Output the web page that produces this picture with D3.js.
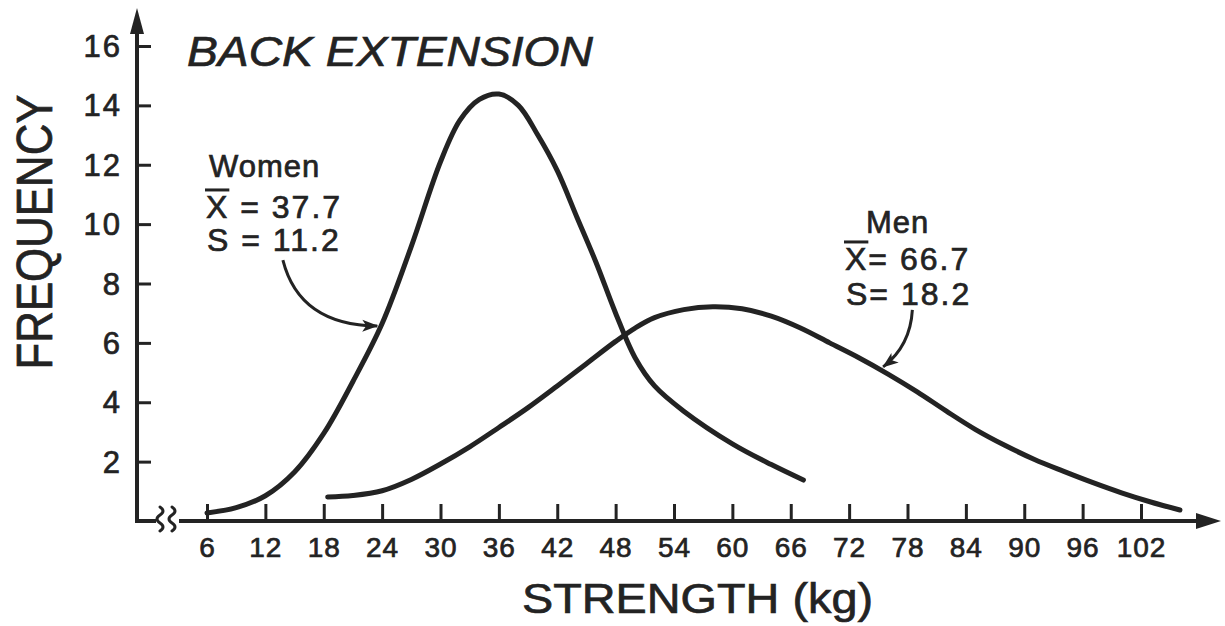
<!DOCTYPE html>
<html>
<head>
<meta charset="utf-8">
<script src="https://cdn.jsdelivr.net/npm/d3@7"></script>
<style>
  html, body { margin: 0; padding: 0; background: #fff; }
  svg { display: block; }
  text { font-family: "Liberation Sans", Arial, sans-serif; fill: #232323; stroke: #232323; stroke-width: 0.7px; }
</style>
</head>
<body>
<svg id="chart" width="1225" height="626"></svg>
<script>
// Back-extension strength (kg) and frequency, women and men
const xTicks = [6, 12, 18, 24, 30, 36, 42, 48, 54, 60, 66, 72, 78, 84, 90, 96, 102];
const yTicks = [2, 4, 6, 8, 10, 12, 14, 16];

const womenStrength = [6, 9, 12, 15, 18, 21, 24, 27, 30, 32, 34, 36, 38, 40, 42, 44, 46, 48, 50, 52, 55, 60, 64, 67.3];
const womenFreq     = [0.27, 0.45, 0.85, 1.65, 2.95, 4.70, 6.65, 9.25, 12.1, 13.5, 14.2, 14.38, 14.0, 13.0, 11.8, 10.25, 8.7, 7.0, 5.5, 4.55, 3.7, 2.6, 1.9, 1.38];

const menStrength = [18.4, 21, 24, 27, 30, 33, 36, 39, 42, 45, 48, 50, 52, 55, 58, 61, 64, 67, 70, 73, 76, 79, 82, 85, 88, 91, 94, 97, 100, 103, 106];
const menFreq     = [0.81, 0.86, 1.02, 1.4, 1.92, 2.5, 3.15, 3.82, 4.55, 5.3, 6.05, 6.5, 6.85, 7.12, 7.22, 7.15, 6.9, 6.5, 6.0, 5.5, 4.95, 4.35, 3.7, 3.08, 2.55, 2.08, 1.68, 1.3, 0.95, 0.64, 0.37];

// group labels: name, mean, standard deviation
const womenStats = ["Women", "37.7", "11.2"];
const menStats   = ["Men", "66.7", "18.2"];

const ink = "#232323";
const svg = d3.select("#chart");

const x = d3.scaleLinear().domain([6, 102]).range([207, 1141]);
const y = d3.scaleLinear().domain([0, 16]).range([521, 46]);

const x0 = 137;          // vertical axis position
const yBase = y(0);      // horizontal axis position

// arrowhead marker for the label pointers
const defs = svg.append("defs");
defs.append("marker")
  .attr("id", "head")
  .attr("viewBox", "-1 -7 17 14")
  .attr("refX", 15).attr("refY", 0)
  .attr("markerWidth", 17).attr("markerHeight", 14)
  .attr("markerUnits", "userSpaceOnUse")
  .attr("orient", "auto")
  .append("path")
  .attr("d", "M0,-6 L16,0 L0,6 L4,0 Z")
  .attr("fill", ink);

// vertical axis with arrow
svg.append("line")
  .attr("x1", x0).attr("y1", yBase + 1)
  .attr("x2", x0).attr("y2", 30)
  .attr("stroke", ink).attr("stroke-width", 4);
svg.append("path")
  .attr("d", `M${x0},8 L${x0 + 7},34 L${x0 - 7},34 Z`)
  .attr("fill", ink);

// horizontal axis, broken near the origin, with arrow
svg.append("line")
  .attr("x1", x0 - 2).attr("y1", yBase)
  .attr("x2", 156).attr("y2", yBase)
  .attr("stroke", ink).attr("stroke-width", 4);
svg.append("line")
  .attr("x1", 179).attr("y1", yBase)
  .attr("x2", 1200).attr("y2", yBase)
  .attr("stroke", ink).attr("stroke-width", 4);
svg.append("path")
  .attr("d", `M1221,${yBase} L1196,${yBase - 8} L1196,${yBase + 8} Z`)
  .attr("fill", ink);

// axis break marks
[161, 173].forEach(cx => {
  svg.append("path")
    .attr("d", `M${cx - 1},507 q 6,4 0,8 q -6,4 0,8 q 6,4 0,8`)
    .attr("fill", "none").attr("stroke", ink)
    .attr("stroke-width", 3).attr("stroke-linecap", "round");
});

// y ticks and labels
const yAxis = d3.axisLeft(y).tickValues(yTicks).tickSize(-14).tickPadding(15).tickFormat(d3.format("d"));
const gy = svg.append("g").attr("transform", `translate(${x0},0)`).call(yAxis);
gy.select(".domain").remove();
gy.selectAll(".tick line").attr("stroke", ink).attr("stroke-width", 3);
gy.selectAll(".tick text")
  .attr("font-size", 31).attr("fill", ink)
  .attr("font-family", "\"Liberation Sans\", Arial, sans-serif")
  .attr("letter-spacing", 2).attr("dy", "0.34em");

// x ticks and labels
const xAxis = d3.axisBottom(x).tickValues(xTicks).tickSize(-17).tickPadding(16).tickFormat(d3.format("d"));
const gx = svg.append("g").attr("transform", `translate(0,${yBase})`).call(xAxis);
gx.select(".domain").remove();
gx.selectAll(".tick line").attr("stroke", ink).attr("stroke-width", 3);
gx.selectAll(".tick text")
  .attr("font-size", 28).attr("fill", ink)
  .attr("font-family", "\"Liberation Sans\", Arial, sans-serif")
  .attr("letter-spacing", 1);

// distribution curves
const line = d3.line()
  .x(d => x(d[0]))
  .y(d => y(d[1]))
  .curve(d3.curveCatmullRom.alpha(0.5));

const women = d3.zip(womenStrength, womenFreq);
const men = d3.zip(menStrength, menFreq);

[women, men].forEach(series => {
  svg.append("path")
    .datum(series)
    .attr("d", line)
    .attr("fill", "none")
    .attr("stroke", ink)
    .attr("stroke-width", 5)
    .attr("stroke-linecap", "round")
    .attr("stroke-linejoin", "round");
});

// titles
svg.append("text")
  .attr("x", 187).attr("y", 66)
  .attr("font-size", 42).attr("font-style", "italic")
  .attr("textLength", 406).attr("lengthAdjust", "spacingAndGlyphs")
  .text("BACK EXTENSION");

svg.append("text")
  .attr("transform", "translate(52,232) rotate(-90)")
  .attr("text-anchor", "middle")
  .attr("font-size", 50)
  .attr("textLength", 275).attr("lengthAdjust", "spacingAndGlyphs")
  .text("FREQUENCY");

svg.append("text")
  .attr("x", 522).attr("y", 613)
  .attr("font-size", 43)
  .attr("textLength", 351).attr("lengthAdjust", "spacingAndGlyphs")
  .text("STRENGTH (kg)");

// group annotations: name, mean (X with a bar) and standard deviation
function statBlock(stats, pos) {
  const g = svg.append("g");
  const fs = 32;
  g.append("text").attr("x", pos.nameX).attr("y", pos.nameY)
    .attr("font-size", 31).attr("letter-spacing", 1).text(stats[0]);
  const m = g.append("text").attr("x", pos.statX).attr("y", pos.meanY)
    .attr("font-size", fs).attr("letter-spacing", 2);
  const xs = m.append("tspan").text("X");
  m.append("tspan").text(pos.eq + stats[1]);
  const w = xs.node().getComputedTextLength();
  const barY = pos.meanY - fs * 0.72 - 5;
  g.append("line")
    .attr("x1", pos.statX - 1).attr("x2", pos.statX + w)
    .attr("y1", barY).attr("y2", barY)
    .attr("stroke", ink).attr("stroke-width", 3);
  g.append("text").attr("x", pos.statX + 1).attr("y", pos.sdY)
    .attr("font-size", fs).attr("letter-spacing", 2)
    .text("S" + pos.eq + stats[2]);
}
statBlock(womenStats, { nameX: 209, nameY: 177, statX: 206, meanY: 218, sdY: 251, eq: " = " });
statBlock(menStats,   { nameX: 866, nameY: 233, statX: 845, meanY: 270, sdY: 305, eq: "= " });

// pointer arrows from labels to curves (data coordinates)
function pointer(from, ctrl, to) {
  const p = d3.path();
  p.moveTo(x(from[0]), y(from[1]));
  p.quadraticCurveTo(x(ctrl[0]), y(ctrl[1]), x(to[0]), y(to[1]));
  svg.append("path")
    .attr("d", p.toString())
    .attr("fill", "none").attr("stroke", ink)
    .attr("stroke-width", 3)
    .attr("marker-end", "url(#head)");
}
pointer([13.8, 8.79], [15.5, 6.6], [23.5, 6.57]);
pointer([78.5, 7.11], [78.3, 5.9], [75.5, 5.19]);
</script>
</body>
</html>
